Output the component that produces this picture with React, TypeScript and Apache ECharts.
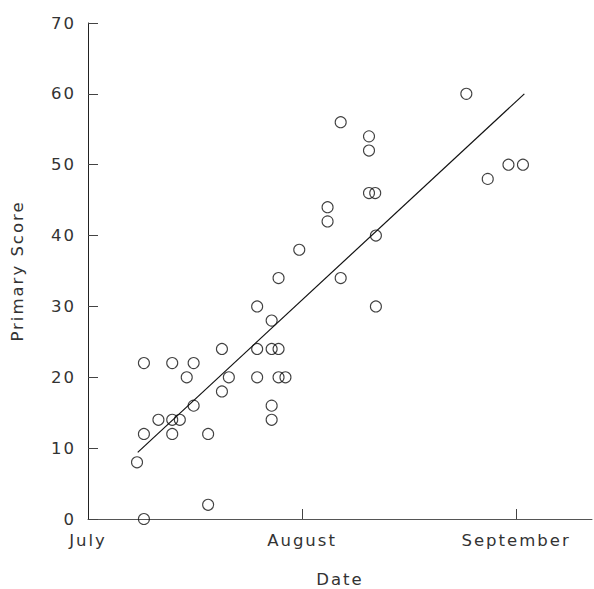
import React, { useEffect, useRef } from "react";
import * as echarts from "echarts";

// days since July 1 (0 = July 1, 31 = August 1, 62 = September 1)
const DAYS = [
  7.1, 8.1, 8.1, 8.1, 10.2, 12.2, 12.2, 12.2, 13.3, 14.3, 15.3, 15.3, 17.4, 17.4,
  19.4, 19.4, 20.4, 24.5, 24.5, 24.5, 26.6, 26.6, 26.6, 26.6, 27.6, 27.6, 28.6,
  27.6, 30.6, 34.7, 34.7, 36.6, 36.6, 40.7, 40.7, 40.7, 41.6, 41.7, 41.7, 54.8,
  57.9, 60.9, 63.0,
];
const SCORES = [
  8, 22, 12, 0, 14, 22, 14, 12, 14, 20, 22, 16, 12, 2,
  24, 18, 20, 30, 24, 20, 28, 24, 16, 14, 24, 20, 20,
  34, 38, 44, 42, 56, 34, 54, 52, 46, 46, 40, 30, 60,
  48, 50, 50,
];
const FIT_DAYS = [7.2, 63.2];
const FIT_SCORES = [9.4, 60];
const MONTH_TICKS = [0, 31, 62];
const MONTH_LABELS = ["July", "August", "September"];

const FONT = "'DejaVu Sans', sans-serif";

export default function App() {
  const ref = useRef<HTMLDivElement>(null);
  useEffect(() => {
    if (!ref.current) return;
    const chart = echarts.init(ref.current, undefined, { renderer: "svg" });
    const textStyle = { fontFamily: FONT, fontSize: 16.5, color: "#333" };
    chart.setOption({
      animation: false,
      backgroundColor: "#fff",
      grid: { left: 88, right: 2, top: 23, bottom: 70, outerBoundsMode: "none", containLabel: false },
      xAxis: {
        type: "value",
        min: 0,
        max: 73,
        name: "Date",
        nameLocation: "middle",
        nameGap: 52,
        nameTextStyle: textStyle,
        axisLine: { show: true, lineStyle: { color: "#555", width: 1 } },
        axisTick: {
          show: true,
          inside: true,
          length: 10,
          customValues: MONTH_TICKS.slice(1),
          lineStyle: { color: "#444" },
        },
        axisLabel: {
          ...textStyle,
          margin: 13,
          customValues: MONTH_TICKS,
          formatter: (v: number) => {
            const i = MONTH_TICKS.indexOf(Math.round(v));
            return i >= 0 ? MONTH_LABELS[i] : "";
          },
        },
        splitLine: { show: false },
      },
      yAxis: {
        type: "value",
        min: 0,
        max: 70,
        interval: 10,
        name: "Primary Score",
        nameLocation: "middle",
        nameGap: 62,
        nameTextStyle: textStyle,
        axisLine: { show: true, lineStyle: { color: "#222", width: 1 } },
        axisTick: { show: true, inside: true, length: 10, lineStyle: { color: "#444" } },
        axisLabel: { ...textStyle, margin: 12 },
        splitLine: { show: false },
      },
      series: [
        {
          type: "scatter",
          data: DAYS.map((d, i) => [d, SCORES[i]]),
          symbol: "circle",
          symbolSize: 11,
          itemStyle: { color: "rgba(0,0,0,0)", borderColor: "#111", borderWidth: 1.1 },
          silent: true,
          z: 3,
        },
        {
          type: "line",
          data: FIT_DAYS.map((d, i) => [d, FIT_SCORES[i]]),
          showSymbol: false,
          lineStyle: { color: "#111", width: 1.2 },
          silent: true,
          z: 2,
        },
      ],
    });
    return () => chart.dispose();
  }, []);
  return (
    <>
      <style>{"svg text{letter-spacing:2px}"}</style>
      <div
        ref={ref}
        style={{ position: "fixed", left: 0, top: 0, width: 594, height: 589, background: "#fff" }}
      />
    </>
  );
}
